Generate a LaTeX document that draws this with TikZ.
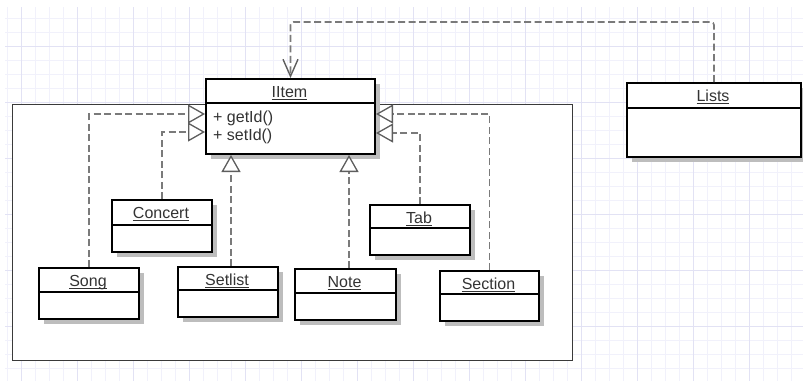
\documentclass[tikz,border=0pt]{standalone}
\usepackage{fontspec}
\setmainfont{Liberation Sans}
\usetikzlibrary{arrows.meta,calc}
\definecolor{gridminor}{HTML}{F1F1FB}
\definecolor{gridmajor}{HTML}{E2E2F4}
\definecolor{shadowc}{HTML}{BDBDBD}
\definecolor{connc}{HTML}{7A7A7A}
\definecolor{tipc}{HTML}{5E5E5E}
\definecolor{textc}{HTML}{333333}
\definecolor{pkgc}{HTML}{3A3A3A}
\newcommand\ulbl[1]{\setbox0\hbox{#1}\rlap{\rule[-2.2pt]{\wd0}{0.9pt}}\box0}
\tikzset{
 classbox/.style={draw=black, line width=2pt, fill=white, inner sep=0pt, anchor=north west},
 divline/.style={line width=1.8pt},
 txt/.style={text=textc, font=\fontsize{16}{18}\selectfont, inner sep=0pt},
 title/.style={txt, anchor=base},
 gen/.style={draw=connc, line width=1.6pt, dash pattern=on 7pt off 3.5pt, -{Triangle[length=17pt 0 0,width=19pt 0 0,fill=white,color=tipc,line width=1.3pt]}},
 dep/.style={draw=connc, line width=1.6pt, dash pattern=on 7pt off 3.5pt, rounded corners=3pt, -{Straight Barb[length=17pt 0 0,width=15pt 0 0,color=tipc,line width=1.4pt]}},
}
\newcommand\umlbox[7]{%
 \fill[shadowc] (#2+6,#3+6) rectangle (#4+6,#6+6);
 \node[classbox, minimum width={(#4-#2)*1pt}, minimum height={(#6-#3)*1pt}] (#1) at (#2,#3) {};
 \draw[divline] (#2,#5) -- (#4,#5);
 \node[title] (#1-t) at ({(#2+#4)/2},#3+19.5) {\ulbl{#7}};
}
\begin{document}
\begin{tikzpicture}[x=1pt,y=-1pt]
\useasboundingbox (0,0) rectangle (803,381);
% grid
\foreach \k in {0,...,56} {\draw[gridminor, line width=0.8pt] (7.7+14*\k,7) -- (7.7+14*\k,381);}
\foreach \k in {0,...,26} {\draw[gridminor, line width=0.8pt] (5,18+14*\k) -- (803,18+14*\k);}
\foreach \k in {0,...,14} {\draw[gridmajor, line width=0.8pt] (21.7+56*\k,7) -- (21.7+56*\k,381);}
\foreach \k in {0,...,6} {\draw[gridmajor, line width=0.8pt] (5,46+56*\k) -- (803,46+56*\k);}
% package frame
\node[draw=pkgc, line width=1.2pt, fill=white, inner sep=0pt, anchor=north west,
      minimum width=560pt, minimum height=256pt] (pkg) at (12,104) {};
% classes
\umlbox{iitem}{205}{78}{374}{103}{153}{IItem}
\node[txt, anchor=base west] (m1) at (213,122) {+ getId()};
\node[txt, anchor=base west] (m2) at (213,140) {+ setId()};
\umlbox{lists}{626}{82}{800}{108}{156}{Lists}
\umlbox{concert}{111}{199}{211}{225}{251}{Concert}
\umlbox{song}{38}{267}{138}{292}{318}{Song}
\umlbox{setlist}{177}{266}{277}{290}{316}{Setlist}
\umlbox{note}{294}{268}{395}{293}{319}{Note}
\umlbox{tab}{369}{204}{469}{228}{254}{Tab}
\umlbox{section}{439}{270}{538}{294}{320}{Section}
% connectors
\draw[gen] (song.north) |- ($(iitem.north west)+(0,36)$);
\draw[gen] (concert.north) |- ($(iitem.north west)+(0,54)$);
\path ([xshift=3pt]setlist.north) coordinate (slx);
\draw[gen] (slx) -- (slx |- iitem.south);
\path ([xshift=3.5pt]note.north) coordinate (ntx);
\draw[gen] (ntx) -- (ntx |- iitem.south);
\draw[gen] (tab.north) |- ($(iitem.north east)+(0,55)$);
\draw[gen] (section.north) |- ($(iitem.north east)+(0,36)$);
\draw[dep] (lists.north) -- ++(0,-60) -| (iitem.north);
\end{tikzpicture}
\end{document}
